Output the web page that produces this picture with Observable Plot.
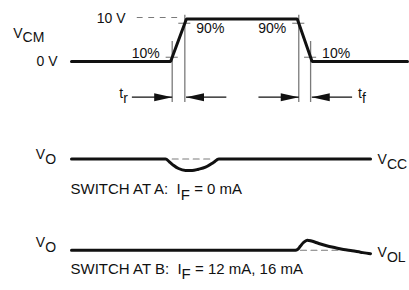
<!DOCTYPE html>
<html><head><meta charset="utf-8">
<script src="https://cdn.jsdelivr.net/npm/d3@7"></script>
<script src="https://cdn.jsdelivr.net/npm/@observablehq/plot@0.6"></script>
<style>
body{margin:0;background:#fff;}
#chart{width:409px;height:290px;}
#chart svg{display:block;background:#fff;font-family:"Liberation Sans",Arial,sans-serif;}
#chart svg text{white-space:pre;}
</style></head><body><div id="chart"></div>
<script>
// ---- Input pulse V_CM (time in arbitrary units, volts) ----
const vcmTime  = [0, 29.5, 34.2, 67.2, 71.6, 100];
const vcmVolts = [0, 0, 10, 10, 0, 0];
const vcmLevels = [0, 10];
const vcmLevelLabels = ["0 V", "10 V"];
const thresholdPct = [10, 90];
const thresholdLabels = ["10%", "90%"];
const edgeNames = ["t_{r}", "t_{f}"];
const vcmRefDash = [19.55, 32.44];

// ---- Output, switch at A (deviation from V_CC, relative units) ----
const outATime = [0, 27.98, 29.17, 30.45, 31.85, 33.93, 35.92, 37.8, 39.88, 42.35, 43.84, 89];
const outADev  = [0, 0, -0.7, -1.53, -2.24, -2.7, -2.7, -2.4, -1.93, -0.75, 0, 0];
const outARefDash = [29.97, 42.35];

// ---- Output, switch at B (deviation from V_OL, relative units) ----
const outBTime = [0, 66.67, 67.26, 68.15, 69.05, 70.15, 71.43, 73.6, 75.9, 78.57, 80.95, 83.54, 86.0, 88.48, 89];
const outBDev  = [0, 0, 0.16, 0.99, 1.81, 2.35, 2.16, 1.58, 1.04, 0.56, 0.16, -0.14, -0.47, -0.78, -0.82];
const outBRefDash = [68.15, 80.06];

const rowStartLabels = ["V_{O}", "V_{O}"];
const rowEndLabels = ["V_{CC}", "V_{OL}"];
const captions = ["SWITCH AT A:  I_{F} = 0 mA", "SWITCH AT B:  I_{F} = 12 mA, 16 mA"];

// ---------------------------------------------------------------
const W = 409;
const xScale = {domain: [0, 100], range: [71, 407]};
const INK = "#111";
const GRAY = "#7a7a7a";
const FS = 14, CAPTION_FS = 15;

const vcm = vcmTime.map((t, i) => ({t, v: vcmVolts[i]}));
function crossing(i0, level) {
  const a = vcm[i0], b = vcm[i0 + 1];
  return a.t + (level - a.v) / (b.v - a.v) * (b.t - a.t);
}
// rise segment starts at index 1, fall at index 3
const crossings = [];
[[1, "rise"], [3, "fall"]].forEach(([i0, edge]) => {
  thresholdPct.forEach((p, k) => {
    const level = p / 100 * 10;
    const outerLeft = (edge === "rise") === (p === 10);
    crossings.push({t: crossing(i0, level), level, pct: p, label: thresholdLabels[k], edge, outerLeft});
  });
});
const ARROW_Y = -8.4, RULE_BOTTOM = -9.65, ARROW_LEN = 12;
const arrows = [];
["rise", "fall"].forEach((edge, e) => {
  const cs = crossings.filter(c => c.edge === edge).sort((a, b) => a.t - b.t);
  arrows.push({tip: cs[0].t, from: cs[0].t - ARROW_LEN, dir: "right", edge: e});
  arrows.push({tip: cs[1].t + 0.35, from: cs[1].t + 0.35 + ARROW_LEN, dir: "left", edge: e});
});

const headRight = {draw(ctx) { ctx.moveTo(0, 0); ctx.lineTo(-18, -4); ctx.lineTo(-18, 4); ctx.closePath(); }};
const headLeft  = {draw(ctx) { ctx.moveTo(0, 0); ctx.lineTo(18, -4); ctx.lineTo(18, 4); ctx.closePath(); }};

function subscripts(svg) {
  d3.select(svg).selectAll("text").each(function () {
    const s = this.textContent;
    if (!s.includes("_{")) return;
    const el = d3.select(this);
    el.text(null);
    let shifted = false;
    for (const p of s.split(/(_\{[^}]*\})/)) {
      if (!p) continue;
      const m = p.match(/^_\{(.*)\}$/);
      if (m) { el.append("tspan").attr("dy", "0.34em").text(m[1]); shifted = true; }
      else { const ts = el.append("tspan").text(p); if (shifted) { ts.attr("dy", "-0.34em"); shifted = false; } }
    }
  });
  return svg;
}

const common = {width: W, style: {fontSize: FS + "px", color: INK, background: "#fff"}, x: {...xScale, axis: null}};

const thresholdText = crossings.map(c => Plot.text([c], {
  x: "t", y: "level", text: "label", fill: INK, fontSize: FS,
  textAnchor: c.outerLeft ? "end" : "start",
  dx: c.outerLeft ? -12.5 : 11.5,
  dy: c.pct === 10 ? -4 : 5.3
}));

// ---- Plot 1: V_CM ----
const p1 = Plot.plot({
  ...common, height: 112,
  y: {domain: [0, 10], range: [61, 18.5], axis: null},
  marks: [
    Plot.line(vcmRefDash.map(t => ({t, v: 10})), {x: "t", y: "v", stroke: GRAY, strokeWidth: 1.1, strokeDasharray: "5,6.5", dy: -1.5}),
    Plot.ruleX(crossings, {x: "t", y1: d => d.pct === 10 ? d.level + 3.7 : d.level + 1.9, y2: RULE_BOTTOM, stroke: GRAY, strokeWidth: 1.3}),
    Plot.ruleY(crossings, {y: "level", x1: d => d.t - 1.8, x2: d => d.t + 1.8, stroke: GRAY, strokeWidth: 1.1}),
    Plot.line(vcm, {x: "t", y: "v", stroke: INK, strokeWidth: 3, strokeLinejoin: "miter"}),
    ...thresholdText,
    Plot.link(arrows, {x1: "from", x2: "tip", y1: ARROW_Y, y2: ARROW_Y, stroke: INK, strokeWidth: 1.2}),
    Plot.dot(arrows.filter(a => a.dir === "right"), {x: "tip", y: ARROW_Y, symbol: headRight, fill: INK, stroke: "none"}),
    Plot.dot(arrows.filter(a => a.dir === "left"), {x: "tip", y: ARROW_Y, symbol: headLeft, fill: INK, stroke: "none"}),
    Plot.text([edgeNames[0]], {x: arrows[0].from, y: ARROW_Y, text: d => d, textAnchor: "end", dx: -4, dy: -3.5, fill: INK, fontSize: FS}),
    Plot.text([edgeNames[1]], {x: arrows[3].from, y: ARROW_Y, text: d => d, textAnchor: "start", dx: 6, dy: -3.5, fill: INK, fontSize: FS}),
    Plot.text(vcmLevels, {x: (d, i) => i === 0 ? -4.17 : 16.07, y: d => d, text: (d, i) => vcmLevelLabels[i], textAnchor: "end", fill: INK, fontSize: FS}),
    Plot.text(["V_{CM}"], {x: -17.35, y: 6.7, text: d => d, textAnchor: "start", fill: INK, fontSize: FS})
  ]
});

function rowPlot(height, baseY, times, devs, dash, startLabel, startDy, endLabel, endDy, caption, captionV) {
  const data = times.map((t, i) => ({t, v: devs[i]}));
  const last = data[data.length - 1];
  return Plot.plot({
    ...common, height,
    y: {domain: [0, 1], range: [baseY, baseY - 4.25], axis: null},
    marks: [
      Plot.line(dash.map(t => ({t, v: 0})), {x: "t", y: "v", stroke: GRAY, strokeWidth: 1.1, strokeDasharray: "6,4.5"}),
      Plot.line(data, {x: "t", y: "v", stroke: INK, strokeWidth: 3, curve: "monotone-x"}),
      Plot.text([startLabel], {x: -4.6, y: 0, text: d => d, textAnchor: "end", dy: startDy, fill: INK, fontSize: FS}),
      Plot.text([endLabel], {x: last.t, y: last.v, text: d => d, textAnchor: "start", dx: 7, dy: endDy, fill: INK, fontSize: FS}),
      Plot.text([caption], {x: -0.3, y: captionV, text: d => d, textAnchor: "start", fill: INK, fontSize: CAPTION_FS})
    ]
  });
}

const p2 = rowPlot(93, 46.5, outATime, outADev, outARefDash, rowStartLabels[0], -4.5, rowEndLabels[0], 0.5, captions[0], -7.2);
const p3 = rowPlot(85, 44.7, outBTime, outBDev, outBRefDash, rowStartLabels[1], -7.5, rowEndLabels[1], -1, captions[1], -4.4);

const root = document.getElementById("chart");
[p1, p2, p3].forEach(p => root.appendChild(subscripts(p)));
</script></body></html>
